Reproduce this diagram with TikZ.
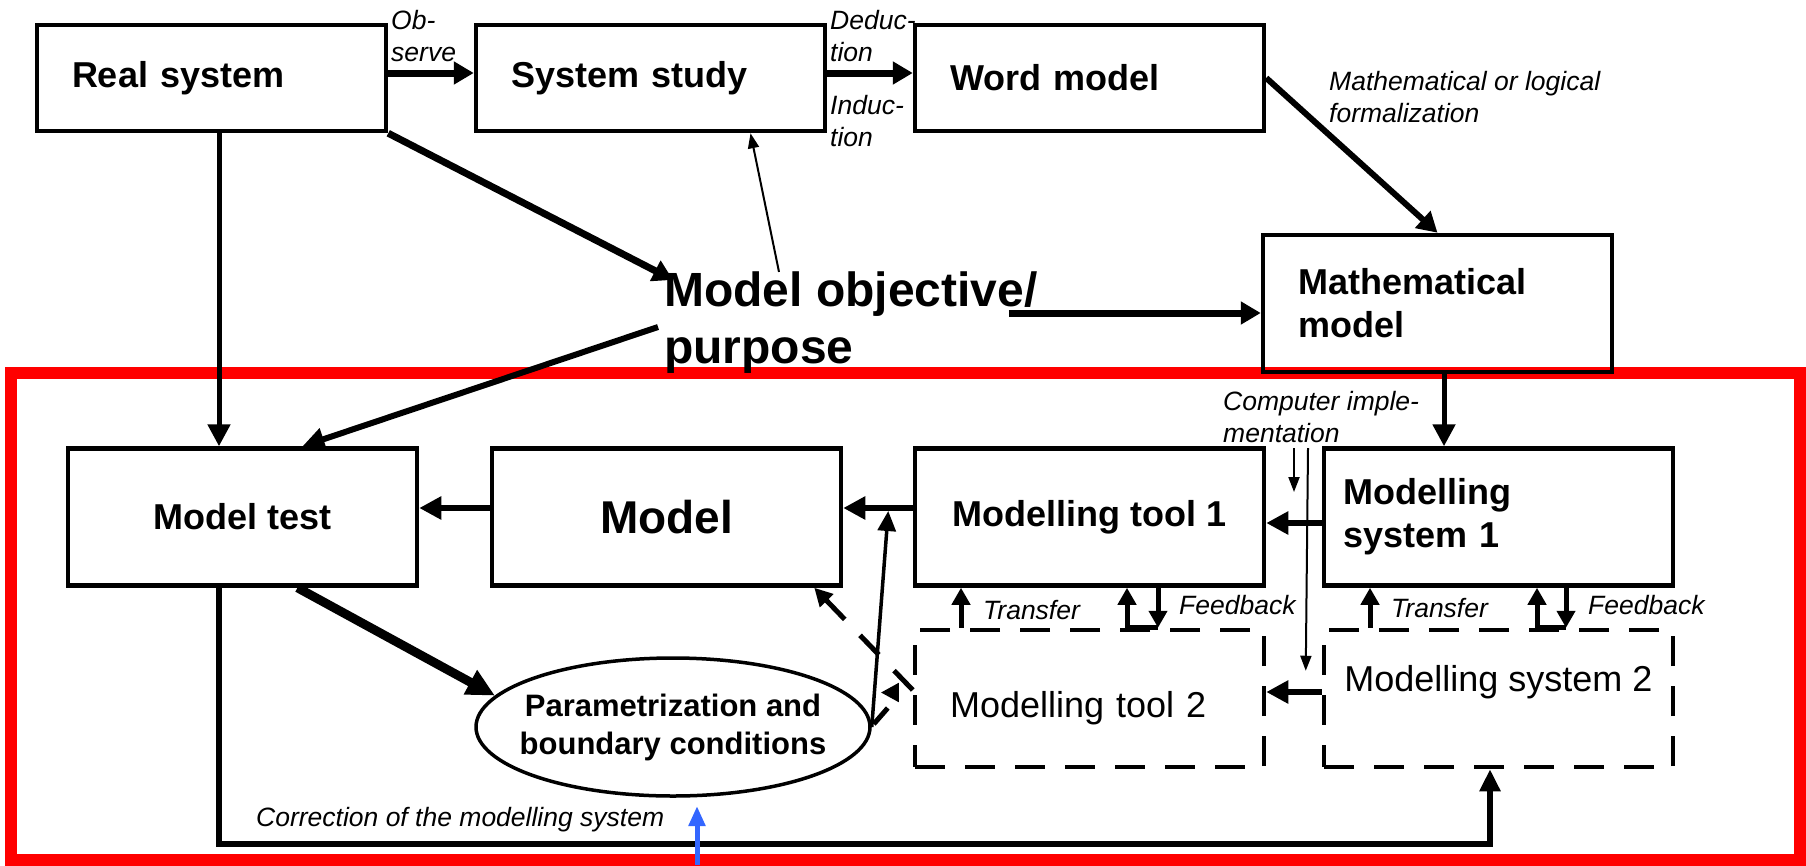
\documentclass[tikz,border=0pt]{standalone}
\usepackage{fontspec}
\setmainfont{Liberation Sans}
\usetikzlibrary{arrows.meta,shapes.geometric}
\definecolor{inletblue}{RGB}{51,102,255}

\tikzset{
    blk/.style={draw, line width=4.5pt, minimum width=349pt, minimum height=137pt,
        inner sep=0pt, align=center, font=\fontsize{36}{43}\selectfont\bfseries},
    blkleft/.style={blk, text width=279pt, align=left},
    dashblk/.style={blk, dash pattern=on 30pt off 20pt, font=\fontsize{36}{43}\selectfont},
    lbl/.style={anchor=west, inner sep=0pt, align=left, font=\fontsize{26.5}{32}\selectfont\itshape},
    thickarr/.style={line width=7pt, -{Triangle[length=20pt,width=22pt]}},
    medarr/.style={line width=5pt, -{Triangle[length=22pt,width=22pt]}},
    thinarr/.style={line width=2pt, -{Triangle[length=15pt,width=11pt]}},
    xferarr/.style={line width=5pt, -{Triangle[length=17pt,width=18pt]}},
    dasharr/.style={line width=5pt, dash pattern=on 27pt off 22pt, -{Triangle[length=18pt,width=18pt]}},
}

\begin{document}
\begin{tikzpicture}[x=1pt, y=-1pt]
        \useasboundingbox (0,0) rectangle (1806,865);
        %% Frame
        \draw[red, line width=12pt] (11,373) rectangle (1800,860);
        %% Boxes
        \node[blkleft, minimum height=106pt] (rs) at (211.5,78) {Real system};
        \node[blkleft, minimum height=106pt] (ss) at (650.5,78) {System study};
        \node[blkleft, minimum height=106pt] (wm) at (1089.5,78) {Word model};
        \node[blkleft] (mm) at (1437.5,303.5) {Mathematical\\model};
        \node[anchor=west, inner sep=0pt, align=left,
            font=\fontsize{48}{57}\selectfont\bfseries] (mob) at (664,323) {Model objective/\\purpose};
        \node[blk] (mt) at (242.5,517) {Model test};
        \node[blk, font=\fontsize{46}{52}\selectfont\bfseries] (mo) at (666.5,517) {Model};
        \node[blk] (mt1) at (1089.5,517) {Modelling tool 1};
        \node[blkleft, text width=310pt] (ms1) at (1498.5,517) {Modelling\\system 1};
        \node[dashblk, text width=279pt, align=left, text height=46pt] (mt2) at (1089.5,698.5) {Modelling tool 2};
        \node[dashblk, text depth=40pt] (ms2) at (1498.5,698.5) {Modelling system 2};
        \node[ellipse, draw, line width=3.5pt, minimum width=394pt, minimum height=138pt,
            inner xsep=-20pt, inner ysep=0pt, align=center,
            font=\fontsize{31}{38}\selectfont\bfseries] (pb) at (673,727) {Parametrization and\\boundary conditions};
        %% Labels
        \node[lbl] (obs) at (391,36) {Ob-\\serve};
        \node[lbl] (ded) at (830,36) {Deduc-\\tion};
        \node[lbl] (ind) at (830,121) {Induc-\\tion};
        \node[lbl] (frm) at (1329,97) {Mathematical or logical\\formalization};
        \node[lbl] (imp) at (1223,417) {Computer imple-\\mentation};
        \node[lbl] (tr1) at (983,610) {Transfer};
        \node[lbl] (fb1) at (1179,605) {Feedback};
        \node[lbl] (tr2) at (1391,608) {Transfer};
        \node[lbl] (fb2) at (1588,605) {Feedback};
        \node[lbl] (cor) at (256,820) {Correction of the modelling system};
        %% Upper arrows
        \draw[thickarr] ([yshift=5pt]rs.east) -- ([yshift=5pt]ss.west);
        \draw[thickarr] ([yshift=5pt]ss.east) -- ([yshift=5pt]wm.west);
        \draw[thickarr] (rs.south east) -- ([shift={(9pt,-8pt)}]mob.north west);
        \draw[thinarr] ([xshift=115pt]mob.north west) -- ([xshift=100pt]ss.south);
        \draw[thickarr, line width=6pt] (wm.east) -- (mm.north);
        \coordinate (mobout) at ([xshift=-29pt,yshift=10pt]mob.east);
        \draw[thickarr] (mobout) -- (mobout -| mm.west);
        \draw[medarr] ([xshift=7.5pt]rs.south) -- ([xshift=-23.5pt]mt.north);
        \draw[medarr, line width=6pt] ([shift={(-6pt,-4pt)}]mob.west) -- ([xshift=60pt]mt.north);
        \draw[medarr] ([xshift=6.5pt]mm.south) -- ([xshift=-54.5pt]ms1.north);
        %% Implementation
        \coordinate (impa) at (1294,448);
        \coordinate (impb) at (1308,448);
        \draw[thinarr] (impa) -- ++(0,44);
        \draw[thinarr] (impb) -- ([xshift=-16pt,yshift=-43pt]ms2.north west);
        %% Lower arrows
        \draw[medarr, line width=6pt] ([yshift=-6pt]ms1.west) -- ([yshift=-6pt]mt1.east);
        \draw[medarr, line width=6pt] ([yshift=6.5pt]ms2.west) -- ([yshift=6.5pt]mt2.east);
        \draw[medarr, line width=6pt] ([yshift=9pt]mt1.west) -- ([yshift=9pt]mo.east);
        \draw[medarr, line width=6pt] ([yshift=9pt]mo.west) -- ([yshift=9pt]mt.east);
        \draw[line width=9pt, -{Triangle[length=28pt,width=26pt]}] ([xshift=55pt]mt.south) -- (pb.170);
        \draw[line width=3.5pt, -{Triangle[length=20pt,width=18pt]}] (pb.east) -- ([xshift=45pt,yshift=6pt]mo.east);
        \draw[dasharr] ([yshift=8.5pt]mt2.west) -- ([xshift=-29pt]mo.south east);
        \draw[dasharr] ([xshift=-14pt,yshift=6pt]mt2.west) -- ++(-18,0);
        \draw[line width=5pt] ([xshift=2pt,yshift=3pt]pb.east) -- ++(14,-16);
        %% Transfer / feedback
        \draw[xferarr] ([xshift=-128.5pt]mt2.north) -- ([xshift=-128.5pt]mt1.south);
        \draw[xferarr] ([xshift=37.5pt]mt2.north) -- ([xshift=37.5pt]mt1.south);
        \draw[xferarr] ([xshift=68.5pt]mt1.south) -- ([xshift=68.5pt]mt2.north);
        \draw[line width=5pt] ([xshift=37.5pt]mt2.north) -- ([xshift=68.5pt]mt2.north);
        \draw[xferarr] ([xshift=-128.5pt]ms2.north) -- ([xshift=-128.5pt]ms1.south);
        \draw[xferarr] ([xshift=38.5pt]ms2.north) -- ([xshift=38.5pt]ms1.south);
        \draw[xferarr] ([xshift=67.5pt]ms1.south) -- ([xshift=67.5pt]ms2.north);
        \draw[line width=5pt] ([xshift=38.5pt]ms2.north) -- ([xshift=67.5pt]ms2.north);
        %% Correction loop
        \draw[line width=6pt, -{Triangle[length=22pt,width=20pt]}] ([xshift=-23.5pt]mt.south) -- ++(0,256) -| ([xshift=-8.5pt]ms2.south);
        \coordinate (bluein) at (697,865);
        \draw[line width=5pt, inletblue, -{Triangle[length=20pt,width=16pt]}] (bluein) -- ++(0,-59);
    \end{tikzpicture}
\end{document}
